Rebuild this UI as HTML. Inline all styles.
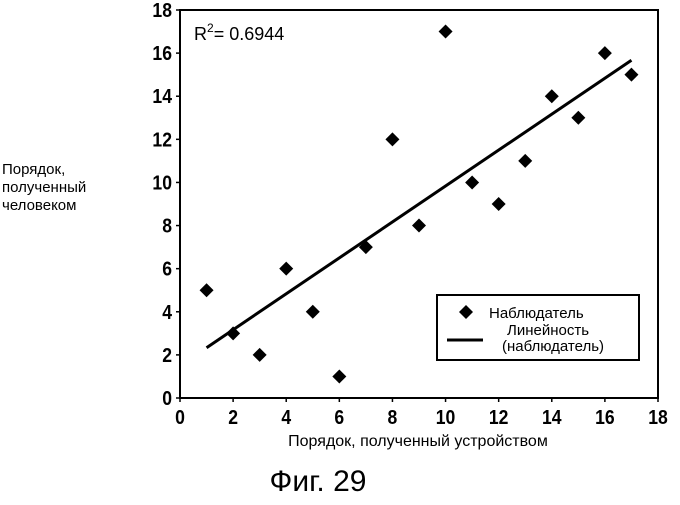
<!DOCTYPE html>
<html><head><meta charset="utf-8"><style>
body{margin:0;background:#fff}
svg text{font-family:"Liberation Sans",sans-serif;fill:#000}
</style></head><body>
<svg width="680" height="500" viewBox="0 0 680 500">
<g id="plot"></g>
</svg>
<script>
const xVals=[1,2,3,4,5,6,7,8,9,10,11,12,13,14,15,16,17];
const yVals=[5,3,2,6,4,1,7,12,8,17,10,9,11,14,13,16,15];
const xTicks=[0,2,4,6,8,10,12,14,16,18];
const yTicks=[0,2,4,6,8,10,12,14,16,18];
const L=180,R=658,T=10,B=398;
const sx=v=>L+(v-0)/18*(R-L), sy=v=>B-(v-0)/18*(B-T);
const NS="http://www.w3.org/2000/svg";
const g=document.getElementById('plot');
function mk(tag,attrs,parent){const e=document.createElementNS(NS,tag);for(const k in attrs)e.setAttribute(k,attrs[k]);(parent||g).appendChild(e);return e;}
let fr=mk('rect',{x:L,y:T,width:R-L,height:B-T,fill:'none',stroke:'#000','stroke-width':2});


xTicks.forEach(v=>{let t=mk('text',{x:sx(v),y:B+26,'text-anchor':'middle','font-size':20,'font-weight':'bold',transform:`translate(${sx(v)*0.12},0) scale(0.88,1)`});t.textContent=v;


mk('line',{x1:sx(v),x2:sx(v),y1:B,y2:B+4,stroke:'#000','stroke-width':1.5});});
yTicks.forEach(v=>{let t=mk('text',{x:172,y:sy(v)+7,'text-anchor':'end','font-size':20,'font-weight':'bold',transform:`translate(${172*0.12},0) scale(0.88,1)`});t.textContent=v;


mk('line',{x1:L-4,x2:L,y1:sy(v),y2:sy(v),stroke:'#000','stroke-width':1.5});});
const n=xVals.length,mx=xVals.reduce((a,b)=>a+b)/n,my=yVals.reduce((a,b)=>a+b)/n;
let sxy=0,sxx=0;xVals.forEach((x,i)=>{sxy+=(x-mx)*(yVals[i]-my);sxx+=(x-mx)**2;});
const m=sxy/sxx,c=my-m*mx;
const x0=Math.min(...xVals),x1=Math.max(...xVals);
let tl=mk('line',{x1:sx(x0),y1:sy(m*x0+c),x2:sx(x1),y2:sy(m*x1+c),stroke:'#000','stroke-width':3});


xVals.forEach((x,i)=>{const cx=sx(x),cy=sy(yVals[i]),r=7;
let p=mk('polygon',{points:`${cx},${cy-r} ${cx+r},${cy} ${cx},${cy+r} ${cx-r},${cy}`,fill:'#000'});

});
let r2=mk('text',{x:194,y:40,'font-size':18});r2.innerHTML='R<tspan font-size="12" dy="-8">2</tspan><tspan dy="8">= 0.6944</tspan>';


let lg=mk('g',{});


mk('rect',{x:437,y:295,width:202,height:65,fill:'#fff',stroke:'#000','stroke-width':2},lg);
mk('polygon',{points:'466,305 473,312 466,319 459,312',fill:'#000'},lg);
let t1=mk('text',{x:489,y:318,'font-size':15},lg);t1.textContent='Наблюдатель';
mk('line',{x1:447,x2:483,y1:340,y2:340,stroke:'#000','stroke-width':3},lg);
let t2=mk('text',{x:548,y:335,'font-size':15,'text-anchor':'middle'},lg);t2.textContent='Линейность';
let t3=mk('text',{x:553,y:351,'font-size':15,'text-anchor':'middle'},lg);t3.textContent='(наблюдатель)';
let xt=mk('text',{x:418,y:446,'font-size':16,'text-anchor':'middle'});xt.textContent='Порядок, полученный устройством';


const yl=['Порядок,','полученный','человеком'];
yl.forEach((s,i)=>{let t=mk('text',{x:2,y:174+i*18,'font-size':15});t.textContent=s;

});
let fg=mk('text',{x:318,y:491,'font-size':30,'text-anchor':'middle'});fg.textContent='Фиг. 29';


</script>
</body></html>
